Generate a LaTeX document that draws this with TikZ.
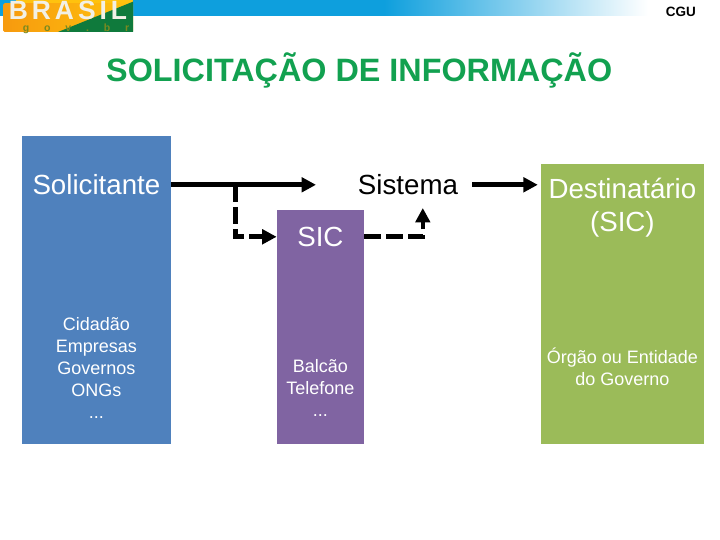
\documentclass[tikz,border=0pt]{standalone}
\usepackage{fontspec}
\setmainfont{Liberation Sans}
\usetikzlibrary{arrows.meta, positioning, calc}
\definecolor{solblue}{HTML}{4F81BD}
\definecolor{sicpurple}{HTML}{8064A2}
\definecolor{destgreen}{HTML}{9BBB59}
\definecolor{titlegreen}{HTML}{12A150}
\definecolor{barblue}{HTML}{0E9FDD}
\definecolor{logogreen}{HTML}{0F7A3C}
\definecolor{logogold}{HTML}{FFC20E}
\definecolor{logoorange}{HTML}{F79A0E}
\definecolor{logotext}{HTML}{F2F0E6}
\definecolor{govtext}{HTML}{7A8A20}
\begin{document}
\begin{tikzpicture}[
    >={Triangle[length=0.36cm, width=0.36cm]},
    bigtext/.style={font=\fontsize{19.7}{23.5}\selectfont, align=center},
    smalltext/.style={font=\fontsize{12.8}{15.6}\selectfont, align=center},
    column/.style={rectangle, inner sep=0pt, anchor=south west},
    arrow/.style={->, line width=0.125cm, black},
    darrow/.style={->, line width=0.115cm, black, dash pattern=on 0.42cm off 0.13cm},
]
\useasboundingbox (0, 0) rectangle (18, 13.5);

% === Header ===

\fill[barblue] (0, 13.1) rectangle (9.6, 13.5);
\shade[left color=barblue, right color=white] (9.6, 13.1) rectangle (16.2, 13.5);
\shade[left color=logoorange, right color=logogold, rounded corners=1pt]
    (0.08, 12.7) rectangle (3.33, 13.42);
\fill[logogold] (0.4, 13.42) rectangle (3.33, 13.5);
\fill[logogreen] (1.45, 12.7) -- (3.33, 13.46) -- (3.33, 12.7) -- cycle;
\node[font=\fontsize{18.8}{19}\bfseries\selectfont, text=logotext, inner sep=0pt] (brasil) at (1.7, 13.23)
    {\addfontfeature{LetterSpace=15}BRASIL};
\node[font=\fontsize{7.5}{8}\bfseries\selectfont, text=govtext, inner sep=0pt] (gov) at (1.9, 12.79)
    {g\hspace{0.37cm}o\hspace{0.37cm}v\hspace{0.37cm}.\hspace{0.37cm}b\hspace{0.37cm}r};
\node[font=\fontsize{9.6}{10}\bfseries\selectfont, inner sep=0pt] (cgu) at (17.02, 13.2) {CGU};

\node[font=\fontsize{23}{26}\bfseries\selectfont, text=titlegreen, inner sep=0pt] (title) at (8.98, 11.74)
    {SOLICITAÇÃO DE INFORMAÇÃO};

% === Columns ===

\node[column, fill=solblue, minimum width=3.725cm, minimum height=7.7cm] (solbox) at (0.55, 2.4) {};
\node[column, fill=sicpurple, minimum width=2.175cm, minimum height=5.85cm] (sicbox) at (6.925, 2.4) {};
\node[column, fill=destgreen, minimum width=4.075cm, minimum height=7cm] (destbox) at (13.525, 2.4) {};

% === Labels ===

\node[bigtext, text=white, minimum width=3.725cm, inner xsep=0pt] (sol) at (2.41, 8.88) {Solicitante};
\node[bigtext, minimum width=3.2cm, inner xsep=0pt] (sistema) at (10.2, 8.88) {Sistema};
\node[bigtext, text=white, minimum width=2.175cm, inner xsep=0pt] (sic) at (8.01, 7.58) {SIC};
\node[bigtext, text=white, minimum width=4.075cm, inner xsep=0pt] (dest) at (15.56, 8.31) {Destinatário\\(SIC)};

\node[smalltext, text=white] (quem) at (2.41, 4.3) {Cidadão\\Empresas\\Governos\\ONGs\\...};
\node[smalltext, text=white] (canal) at (8.01, 3.8) {Balcão\\Telefone\\...};
\node[smalltext, text=white] (orgao) at (15.56, 4.32) {Órgão ou Entidade\\do Governo};

% === Connectors ===

\coordinate (sysin) at (7.9, 8.88);
\coordinate (branch) at (5.88, 8.88);
\coordinate (sysup) at (10.57, 8.3);

\draw[arrow] (sol.east) -- (sysin);
\draw[arrow] (sistema.east) -- ([xshift=-0.08cm]sistema.east -| destbox.west);
\draw[darrow] (branch) |- (sic.west);
\draw[darrow] (sic.east) -| (sysup);

\end{tikzpicture}
\end{document}
